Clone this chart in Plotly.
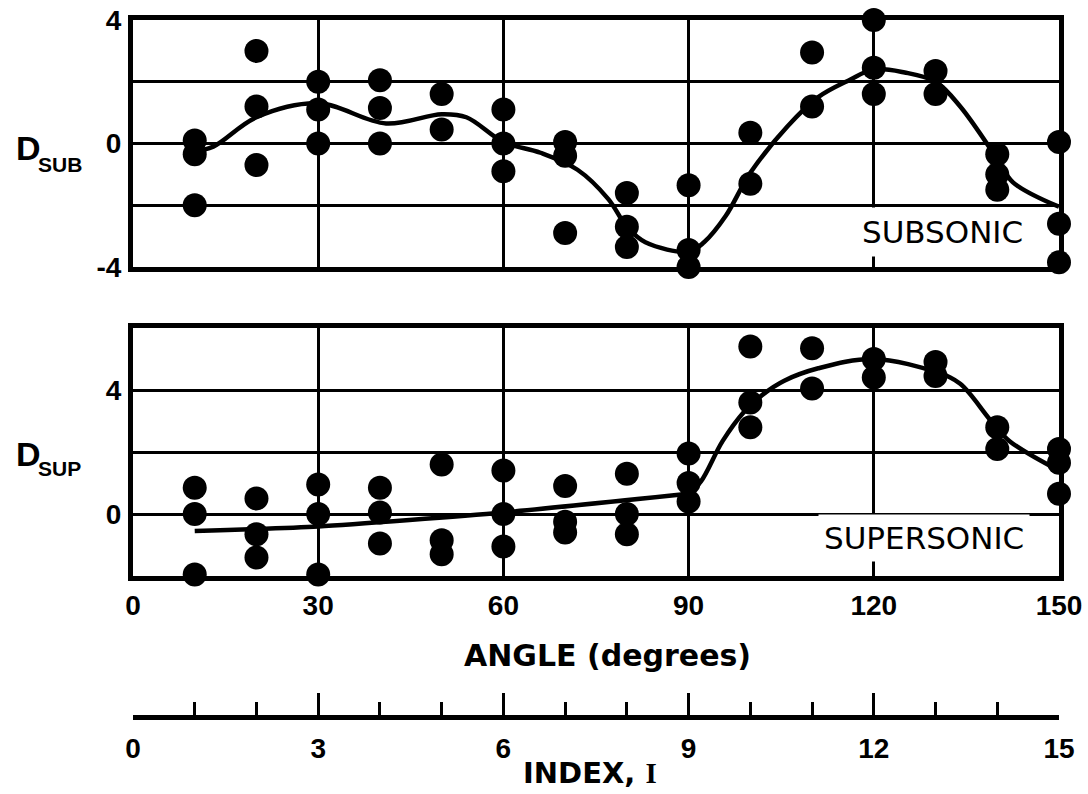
import plotly.graph_objects as go

# ---- axis tick values -------------------------------------------------------
ANGLE_TICKS = [0, 30, 60, 90, 120, 150]
INDEX_TICKS = [0, 3, 6, 9, 12, 15]
INDEX_MINOR_TICKS = list(range(0, 16))
SUB_Y_TICKS = [-4, -2, 0, 2, 4]
SUB_Y_LABELS = ["-4", "", "0", "", "4"]
SUP_Y_TICKS = [-2, 0, 2, 4, 6]
SUP_Y_LABELS = ["", "0", "", "4", ""]

# ---- subsonic measurements ----------------------------------------------------
SUB_ANGLE = [10, 10, 10, 20, 20, 20, 30, 30, 30, 40, 40, 40, 50, 50,
             60, 60, 60, 70, 70, 70, 80, 80, 80, 90, 90, 90, 100, 100,
             110, 110, 120, 120, 120, 130, 130, 140, 140, 140, 150, 150, 150]
SUB_VALUE = [0.1, -0.35, -2.0, 3.0, 1.2, -0.7, 2.0, 1.1, 0.0, 2.05, 1.15, 0.0, 1.6, 0.45,
             1.1, 0.0, -0.9, 0.05, -0.4, -2.9, -1.6, -2.7, -3.35, -1.35, -3.45, -4.0, 0.35, -1.3,
             2.95, 1.2, 4.0, 2.45, 1.6, 2.35, 1.6, -0.35, -1.0, -1.5, 0.05, -2.6, -3.85]

# faired curve through the subsonic data
SUB_CURVE_ANGLE = [10, 13, 20, 30, 41, 50, 54, 60, 66, 72, 77, 80, 83, 90,
                   92.5, 96, 100, 106, 111, 116, 120, 125, 130, 134, 140, 142.5, 150]
SUB_CURVE_VALUE = [-0.25, -0.1, 0.85, 1.3, 0.65, 0.95, 0.85, 0.05, -0.3, -0.85, -1.8, -2.7, -3.2, -3.5,
                   -3.2, -2.35, -0.95, 0.55, 1.5, 2.05, 2.4, 2.3, 2.0, 1.2, -0.5, -1.25, -2.05]

# ---- supersonic measurements -------------------------------------------------
SUP_ANGLE = [10, 10, 10, 20, 20, 20, 30, 30, 30, 40, 40, 40, 50, 50, 50,
             60, 60, 60, 70, 70, 70, 80, 80, 80, 90, 90, 90, 100, 100, 100,
             110, 110, 120, 120, 130, 130, 140, 140, 150, 150, 150]
SUP_VALUE = [0.85, 0.0, -1.95, 0.5, -0.65, -1.4, 0.95, 0.0, -1.95, 0.85, 0.05, -0.95, 1.6, -0.85, -1.3,
             1.4, 0.0, -1.05, 0.9, -0.25, -0.6, 1.3, 0.0, -0.65, 1.95, 1.0, 0.4, 5.4, 3.6, 2.8,
             5.35, 4.05, 5.0, 4.4, 4.9, 4.45, 2.8, 2.1, 2.1, 1.65, 0.65]

# low-angle trend line and faired high-angle curve
SUP_TREND_ANGLE = [10, 30, 60, 90]
SUP_TREND_VALUE = [-0.55, -0.4, 0.05, 0.65]
SUP_CURVE_ANGLE = [90, 92, 95.5, 99, 102, 105.5, 111, 120, 130.5, 134, 139, 142, 150]
SUP_CURVE_VALUE = [0.65, 1.05, 2.35, 3.3, 3.85, 4.3, 4.7, 5.0, 4.55, 4.2, 3.0, 2.35, 1.4]

W, H = 1088, 794
INK = "black"
LABEL_FONT = "DejaVu Sans"
DIGIT_FONT = "Liberation Sans, Arial, sans-serif"


def px(x):
    return x / W


def py(y):
    return 1 - y / H


X_DOMAIN = [px(133), px(1059)]

fig = go.Figure()

dot = dict(color=INK, size=24)
curve = dict(color=INK, width=4.5)

fig.add_trace(go.Scatter(x=SUB_ANGLE, y=SUB_VALUE, mode="markers", marker=dot,
                         cliponaxis=False, xaxis="x", yaxis="y", showlegend=False))
fig.add_trace(go.Scatter(x=SUB_CURVE_ANGLE, y=SUB_CURVE_VALUE, mode="lines",
                         line=dict(shape="spline", smoothing=1.0, **curve),
                         xaxis="x", yaxis="y", showlegend=False))

fig.add_trace(go.Scatter(x=SUP_ANGLE, y=SUP_VALUE, mode="markers", marker=dot,
                         cliponaxis=False, xaxis="x2", yaxis="y2", showlegend=False))
fig.add_trace(go.Scatter(x=SUP_TREND_ANGLE, y=SUP_TREND_VALUE, mode="lines",
                         line=dict(shape="spline", smoothing=0.6, **curve),
                         xaxis="x2", yaxis="y2", showlegend=False))
fig.add_trace(go.Scatter(x=SUP_CURVE_ANGLE, y=SUP_CURVE_VALUE, mode="lines",
                         line=dict(shape="spline", smoothing=1.0, **curve),
                         xaxis="x2", yaxis="y2", showlegend=False))

# invisible carriers for the separate index scale (base, major and minor ticks)
for xa in ("x3", "x4", "x5"):
    fig.add_trace(go.Scatter(x=[0, 15], y=[0, 0], mode="markers", marker=dict(opacity=0),
                             hoverinfo="skip", xaxis=xa, yaxis="y3", showlegend=False))

frame = dict(showline=True, linecolor=INK, linewidth=5, mirror=True,
             showgrid=True, gridcolor=INK, gridwidth=3, zeroline=False,
             ticks="", fixedrange=True, automargin=False)

digit_font = dict(family=DIGIT_FONT, size=28, color=INK, weight="bold")

index_ticks = dict(domain=X_DOMAIN, anchor="y3", overlaying="x3", range=[0, 15],
                   showticklabels=False, showline=False, showgrid=False, zeroline=False,
                   ticks="inside", tickwidth=3, tickcolor=INK,
                   fixedrange=True, automargin=False)

fig.update_layout(
    width=W, height=H,
    margin=dict(l=0, r=0, t=0, b=0, pad=0, autoexpand=False),
    paper_bgcolor="white", plot_bgcolor="white",
    xaxis=dict(domain=X_DOMAIN, anchor="y", range=[0, 150], tickvals=ANGLE_TICKS,
               showticklabels=False, **frame),
    yaxis=dict(domain=[py(267), py(20)], anchor="x", range=[-4, 4],
               tickvals=SUB_Y_TICKS, ticktext=SUB_Y_LABELS, tickfont=digit_font,
               ticklabelstandoff=1, **frame),
    xaxis2=dict(domain=X_DOMAIN, anchor="y2", range=[0, 150], tickvals=ANGLE_TICKS,
                tickfont=digit_font, ticklabelstandoff=0, **frame),
    yaxis2=dict(domain=[py(576), py(328)], anchor="x2", range=[-2, 6],
                tickvals=SUP_Y_TICKS, ticktext=SUP_Y_LABELS, tickfont=digit_font,
                ticklabelstandoff=1, **frame),
    # index scale: heavy base line with the numbers
    xaxis3=dict(domain=X_DOMAIN, anchor="y3", range=[0, 15], tickvals=INDEX_TICKS,
                showline=True, linecolor=INK, linewidth=5, mirror=False,
                showgrid=False, zeroline=False, ticks="",
                tickfont=digit_font, ticklabelstandoff=4, fixedrange=True,
                automargin=False),
    # long ticks at the numbered positions
    xaxis4=dict(tickvals=INDEX_TICKS, ticklen=22, **index_ticks),
    # short unit ticks
    xaxis5=dict(tickvals=INDEX_MINOR_TICKS, ticklen=13, **index_ticks),
    yaxis3=dict(domain=[py(715), py(690)], anchor="x3", range=[0, 1], visible=False,
                fixedrange=True, automargin=False),
)

ann = []


def label(x, y, text, size, anchor="center", bold=True, family=LABEL_FONT, **extra):
    font = dict(family=family, size=size, color=INK)
    if bold:
        font["weight"] = "bold"
    ann.append(dict(x=px(x), y=py(y), text=text, showarrow=False, xref="paper",
                    yref="paper", xanchor=anchor, yanchor="middle", font=font, **extra))


# panel ordinate names: D with a subscript
label(14, 148, "D", 34, anchor="left", family=DIGIT_FONT)
label(36, 165, "SUB", 21, anchor="left", family=DIGIT_FONT)
label(14, 454, "D", 34, anchor="left", family=DIGIT_FONT)
label(36, 468, "SUP", 21, anchor="left", family=DIGIT_FONT)

# regime captions sit on a white patch over the grid
label(1030, 232, "SUBSONIC", 31, anchor="right", bold=False, bgcolor="white", borderpad=6)
label(1030, 538, "SUPERSONIC", 31, anchor="right", bold=False, bgcolor="white", borderpad=5)

# axis titles
label(607, 655, "ANGLE (degrees)", 30)
label(590, 773, "INDEX, <span style='font-family:Liberation Serif'>I</span>", 29)

fig.update_layout(annotations=ann)

fig.write_html("out.html")
